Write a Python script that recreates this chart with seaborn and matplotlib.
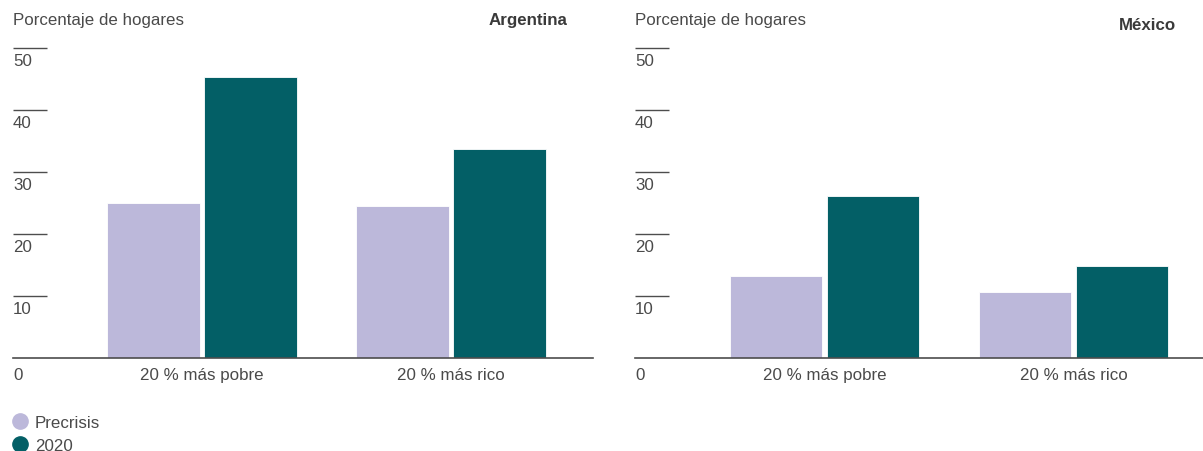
import matplotlib
matplotlib.use("Agg")
import matplotlib.pyplot as plt
import matplotlib.transforms as mtransforms
from matplotlib.lines import Line2D
import seaborn as sns
import pandas as pd

sns.set_theme(style="white")
plt.rcParams["font.family"] = ["Liberation Sans", "DejaVu Sans"]

# Share of households, by income group and period
categories = ["20 % más pobre", "20 % más rico"]
periods = ["Precrisis", "2020"]
argentina_precrisis = [25.0, 24.5]
argentina_2020 = [45.2, 33.7]
mexico_precrisis = [13.2, 10.5]
mexico_2020 = [26.1, 14.7]
y_ticks = [10, 20, 30, 40, 50]

colors = {"Precrisis": "#bcb8da", "2020": "#035f66"}
text_color = "#4a4a4a"
line_color = "#4d4d4d"
fs = 12.2


def frame(pre, post):
    return pd.DataFrame({
        "grupo": categories * 2,
        "periodo": [periods[0]] * 2 + [periods[1]] * 2,
        "valor": list(pre) + list(post),
    })


W, H = 1203, 452
fig = plt.figure(figsize=(W / 100, H / 100), dpi=100)

panels = [
    ("Argentina", frame(argentina_precrisis, argentina_2020), 13, 593, -0.759, 1.57, 567),
    ("México", frame(mexico_precrisis, mexico_2020), 635, 1203, -0.761, 1.52, 1176),
]

bottom_px, top_px = 358.5, 48.5
for title, df, x0, x1, xmin, xmax, title_right in panels:
    ax = fig.add_axes([x0 / W, (H - bottom_px) / H, (x1 - x0) / W, (bottom_px - top_px) / H])
    sns.barplot(data=df, x="grupo", y="valor", hue="periodo", hue_order=periods,
                palette=colors, width=0.78, gap=0.045, ax=ax, legend=False,
                edgecolor="white", linewidth=0.6, saturation=1)
    ax.set_xlim(xmin, xmax)
    ax.set_ylim(0, 50)
    ax.set_xlabel("")
    ax.set_ylabel("")
    ax.set_yticks([])
    for s in ["top", "right", "left"]:
        ax.spines[s].set_visible(False)
    ax.spines["bottom"].set_color(line_color)
    ax.spines["bottom"].set_linewidth(1.2)
    ax.tick_params(axis="x", length=0, pad=7, labelsize=fs, labelcolor=text_color)

    # short rules above each value label
    trans = mtransforms.blended_transform_factory(ax.transAxes, ax.transData)
    rule_w = 34 / (x1 - x0)
    for t in y_ticks:
        ax.plot([0, rule_w], [t, t], transform=trans, color=line_color, lw=1.0,
                clip_on=False, solid_capstyle="butt")
        ax.annotate(str(t), xy=(0, t), xycoords=trans, xytext=(0, -4),
                    textcoords="offset points", ha="left", va="top",
                    fontsize=fs, color=text_color)
    ax.annotate("0", xy=(0, 0), xycoords=trans, xytext=(0, -7),
                textcoords="offset points", ha="left", va="top",
                fontsize=fs, color=text_color)

    fig.text(x0 / W, 1 - 21 / H, "Porcentaje de hogares", ha="left", va="center",
             fontsize=fs, color=text_color)
    fig.text(title_right / W, 1 - (21 if title == "Argentina" else 26) / H, title,
             ha="right", va="center", fontsize=fs, fontweight="bold", color="#3a3a3a")

# legend with round markers
handles = [Line2D([], [], marker="o", linestyle="", markersize=11,
                  markerfacecolor=colors[p], markeredgecolor=colors[p]) for p in periods]
fig.legend(handles, periods, loc="upper left", bbox_to_anchor=(12 / W, 1 - 416 / H),
           frameon=False, handletextpad=0.45, labelspacing=0.45, fontsize=fs,
           labelcolor=text_color, handlelength=0.9, borderaxespad=0, borderpad=0)

fig.savefig("out.png", dpi=100)
